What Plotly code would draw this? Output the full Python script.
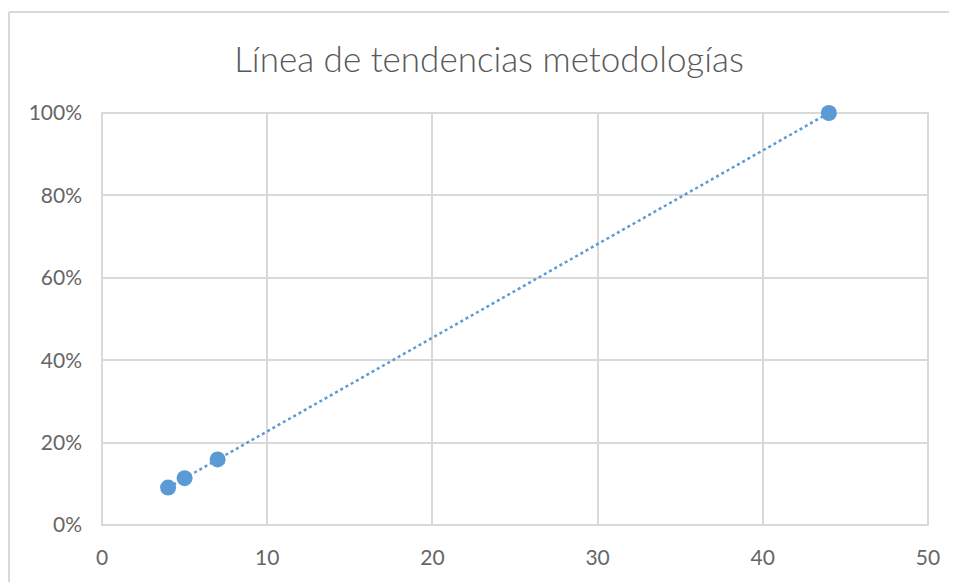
import plotly.graph_objects as go

# Data
x_vals = [4, 5, 7, 44]
y_vals = [0.0909, 0.1136, 0.1591, 1.0]
# Linear trendline (fit through the data, spans the data range)
n = len(x_vals)
mx = sum(x_vals) / n
my = sum(y_vals) / n
slope = sum((a - mx) * (b - my) for a, b in zip(x_vals, y_vals)) / sum((a - mx) ** 2 for a in x_vals)
intercept = my - slope * mx
trend_x = [min(x_vals), max(x_vals)]
trend_y = [intercept + slope * v for v in trend_x]

x_ticks = [0, 10, 20, 30, 40, 50]
y_ticks = [0, 0.2, 0.4, 0.6, 0.8, 1.0]
y_tick_labels = ["0%", "20%", "40%", "60%", "80%", "100%"]

title_text = "Línea de tendencias metodologías"
blue = "#5b9bd5"
grid = "#d9d9d9"
txt = "#595959"
tick_txt = "#666666"

W, H = 957, 582
L, R, T, B = 94, 37, 105, 65
pw, ph = W - L - R, H - T - B

fig = go.Figure()
fig.add_trace(go.Scatter(
    x=trend_x, y=trend_y, mode="lines",
    line=dict(color=blue, width=2.5, dash="dot"),
    hoverinfo="skip", showlegend=False, cliponaxis=False,
))
fig.add_trace(go.Scatter(
    x=x_vals, y=y_vals, mode="markers",
    marker=dict(color=blue, size=16),
    showlegend=False, cliponaxis=False,
))

frame_left = (1 - L) / pw
frame_top = (H - B - 4) / ph

fig.update_layout(
    width=W, height=H,
    margin=dict(l=L, r=R, t=T, b=B),
    paper_bgcolor="white", plot_bgcolor="white",
    font=dict(family="Lato, 'Open Sans', sans-serif", color=tick_txt, size=21),
    title=dict(text=title_text, x=(481 - L) / pw, xanchor="center", xref="paper",
               y=1 - 52 / H, yref="container", yanchor="middle",
               font=dict(size=35, color=txt, weight=300,
                         family="Lato, 'Open Sans', sans-serif")),
    xaxis=dict(range=[0, 50], tickvals=x_ticks, showgrid=True, gridcolor=grid,
               gridwidth=2, zeroline=False, showline=False, ticks="",
               ticklabelstandoff=18, fixedrange=True),
    yaxis=dict(range=[0, 1.0], tickvals=y_ticks, ticktext=y_tick_labels,
               showgrid=True, gridcolor=grid, gridwidth=2, zeroline=False,
               showline=False, ticks="", ticklabelstandoff=19, fixedrange=True),
    shapes=[
        dict(type="rect", xref="paper", yref="paper", x0=0, x1=1, y0=0, y1=1,
             line=dict(color=grid, width=2), layer="below"),
        # outer chart frame (top and left edges visible in the reference)
        dict(type="line", xref="paper", yref="paper",
             x0=frame_left, x1=1.2, y0=frame_top, y1=frame_top,
             line=dict(color=grid, width=2)),
        dict(type="line", xref="paper", yref="paper",
             x0=frame_left, x1=frame_left, y0=-0.3, y1=frame_top,
             line=dict(color=grid, width=2)),
    ],
)
fig.write_html("out.html")
